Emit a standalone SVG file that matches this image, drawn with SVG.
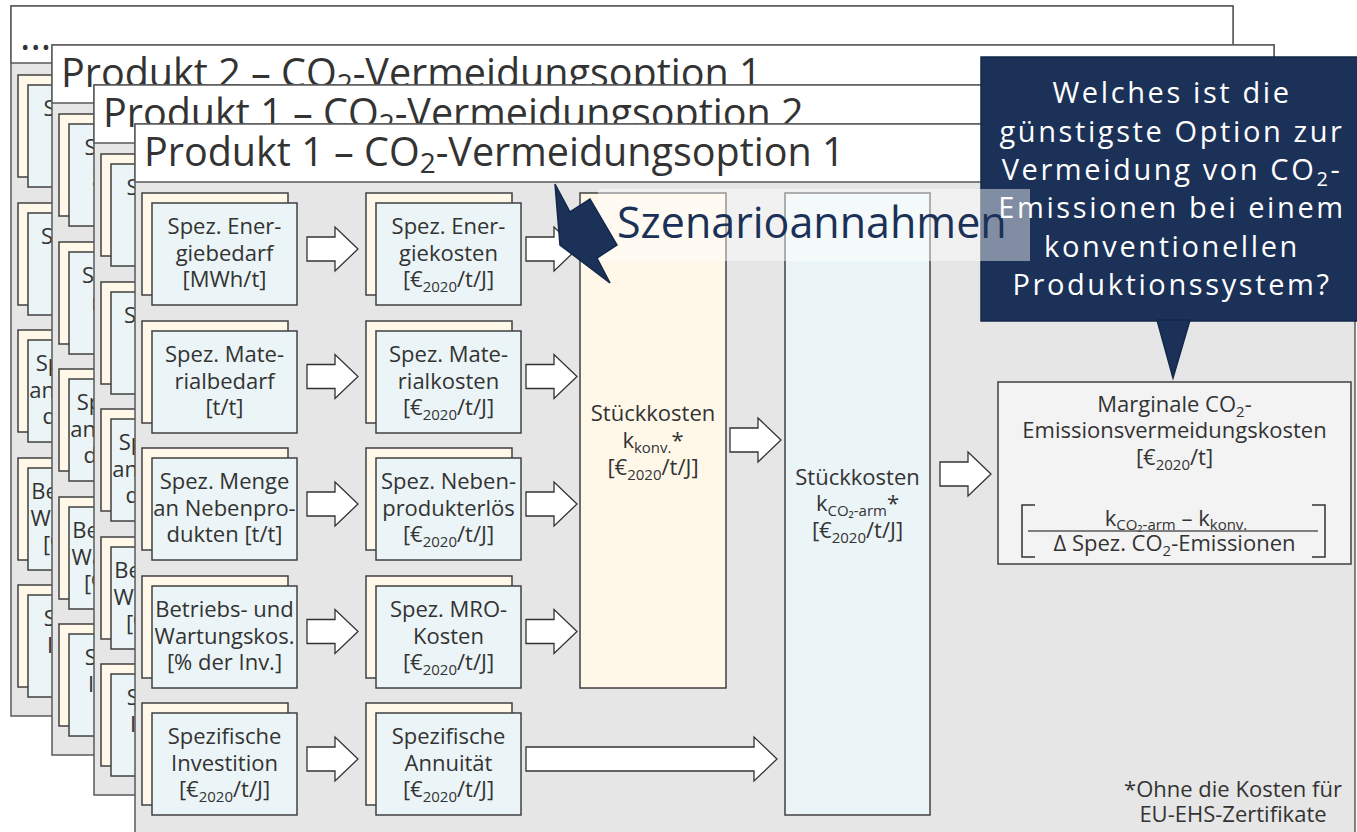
<svg xmlns="http://www.w3.org/2000/svg" xmlns:xlink="http://www.w3.org/1999/xlink" width="1357" height="832" viewBox="0 0 1357 832">
<style>
.pb{fill:#e6e6e6;stroke:#595959;stroke-width:1.5}
.ph{fill:#ffffff;stroke:#595959;stroke-width:1.5}
.cr{fill:#fff8e9;stroke:#404040;stroke-width:1.5}
.bl{fill:#ebf4f6;stroke:#404040;stroke-width:1.5}
.gr{fill:#f3f3f3;stroke:#404040;stroke-width:1.5}
.t{font-family:"Open Sans","Noto Sans","DejaVu Sans",sans-serif;font-size:22px;fill:#333333;text-anchor:middle}
.ti{font-family:"Open Sans","Noto Sans","DejaVu Sans",sans-serif;font-size:39.5px;fill:#333333}
.ar{fill:#ffffff;stroke:#333333;stroke-width:1.3;stroke-linejoin:miter}
.cw{font-family:"Open Sans","Noto Sans","DejaVu Sans",sans-serif;font-size:29px;fill:#ffffff;text-anchor:middle;letter-spacing:2.6px}
.sz{font-family:"Open Sans","Noto Sans","DejaVu Sans",sans-serif;font-size:43px;fill:#1b3158}
.ln{fill:none;stroke:#333333;stroke-width:1.5}
</style>
<defs>
<path id="arw" d="M0,-12 H28 V-22 L51,0 L28,22 V12 H0 Z"/>
</defs>

<!-- back layer 0 -->
<g id="layer0">
<rect class="pb" x="11" y="6" width="1222" height="710"/>
<rect class="ph" x="11" y="6" width="1222" height="57"/>
<text class="ti" x="20" y="50">...</text>
<use xlink:href="#col1" transform="translate(-124,-118)"/>
</g>

<!-- back layer 1 -->
<g id="layer1">
<rect class="pb" x="52" y="45" width="1222" height="710"/>
<rect class="ph" x="52" y="45" width="1222" height="58"/>
<text class="ti" x="61" y="87">Produkt 2 – CO<tspan font-size="28" dy="7">2</tspan><tspan dy="-7">-Vermeidungsoption 1</tspan></text>
<use xlink:href="#col1" transform="translate(-83,-79)"/>
</g>

<!-- back layer 2 -->
<g id="layer2">
<rect class="pb" x="94" y="85" width="1221" height="710"/>
<rect class="ph" x="94" y="85" width="1221" height="58"/>
<text class="ti" x="103" y="127">Produkt 1 – CO<tspan font-size="28" dy="7">2</tspan><tspan dy="-7">-Vermeidungsoption 2</tspan></text>
<use xlink:href="#col1" transform="translate(-41,-39)"/>
</g>

<!-- front layer -->
<g id="layer3">
<rect class="pb" x="135" y="124" width="1220" height="720"/>
<rect class="ph" x="135" y="124" width="1220" height="58"/>
<text class="ti" x="144" y="166">Produkt 1 – CO<tspan font-size="28" dy="7">2</tspan><tspan dy="-7">-Vermeidungsoption 1</tspan></text>
</g>

<g id="col1">
<g id="n-energiebedarf">
<rect class="cr" x="142" y="193" width="146" height="102"/>
<rect class="bl" x="152" y="203" width="145" height="102"/>
<text class="t" x="224.5" y="234">Spez. Ener-</text>
<text class="t" x="224.5" y="261">giebedarf</text>
<text class="t" x="224.5" y="287">[MWh/t]</text>
</g>
<g id="n-materialbedarf">
<rect class="cr" x="142" y="321" width="146" height="102"/>
<rect class="bl" x="152" y="331" width="145" height="102"/>
<text class="t" x="224.5" y="362">Spez. Mate-</text>
<text class="t" x="224.5" y="389">rialbedarf</text>
<text class="t" x="224.5" y="415">[t/t]</text>
</g>
<g id="n-nebenprodukte">
<rect class="cr" x="142" y="448" width="146" height="102"/>
<rect class="bl" x="152" y="458" width="145" height="102"/>
<text class="t" x="224.5" y="489">Spez. Menge</text>
<text class="t" x="224.5" y="516">an Nebenpro-</text>
<text class="t" x="224.5" y="542">dukten [t/t]</text>
</g>
<g id="n-wartung">
<rect class="cr" x="142" y="576" width="146" height="102"/>
<rect class="bl" x="152" y="586" width="145" height="102"/>
<text class="t" x="224.5" y="617">Betriebs- und</text>
<text class="t" x="224.5" y="644">Wartungskos.</text>
<text class="t" x="224.5" y="670">[% der Inv.]</text>
</g>
<g id="n-investition">
<rect class="cr" x="142" y="703" width="146" height="102"/>
<rect class="bl" x="152" y="713" width="145" height="102"/>
<text class="t" x="224.5" y="744">Spezifische</text>
<text class="t" x="224.5" y="771">Investition</text>
<text class="t" x="224.5" y="797">[€<tspan font-size="15" dy="5">2020</tspan><tspan dy="-5">/t/J]</tspan></text>
</g>
</g>

<g id="col2">
<g id="n-energiekosten">
<rect class="cr" x="366" y="193" width="146" height="102"/>
<rect class="bl" x="376" y="203" width="145" height="102"/>
<text class="t" x="448.5" y="234">Spez. Ener-</text>
<text class="t" x="448.5" y="261">giekosten</text>
<text class="t" x="448.5" y="287">[€<tspan font-size="15" dy="5">2020</tspan><tspan dy="-5">/t/J]</tspan></text>
</g>
<g id="n-materialkosten">
<rect class="cr" x="366" y="321" width="146" height="102"/>
<rect class="bl" x="376" y="331" width="145" height="102"/>
<text class="t" x="448.5" y="362">Spez. Mate-</text>
<text class="t" x="448.5" y="389">rialkosten</text>
<text class="t" x="448.5" y="415">[€<tspan font-size="15" dy="5">2020</tspan><tspan dy="-5">/t/J]</tspan></text>
</g>
<g id="n-nebenprodukterloes">
<rect class="cr" x="366" y="448" width="146" height="102"/>
<rect class="bl" x="376" y="458" width="145" height="102"/>
<text class="t" x="448.5" y="489">Spez. Neben-</text>
<text class="t" x="448.5" y="516">produkterlös</text>
<text class="t" x="448.5" y="542">[€<tspan font-size="15" dy="5">2020</tspan><tspan dy="-5">/t/J]</tspan></text>
</g>
<g id="n-mrokosten">
<rect class="cr" x="366" y="576" width="146" height="102"/>
<rect class="bl" x="376" y="586" width="145" height="102"/>
<text class="t" x="448.5" y="617">Spez. MRO-</text>
<text class="t" x="448.5" y="644">Kosten</text>
<text class="t" x="448.5" y="670">[€<tspan font-size="15" dy="5">2020</tspan><tspan dy="-5">/t/J]</tspan></text>
</g>
<g id="n-annuitaet">
<rect class="cr" x="366" y="703" width="146" height="102"/>
<rect class="bl" x="376" y="713" width="145" height="102"/>
<text class="t" x="448.5" y="744">Spezifische</text>
<text class="t" x="448.5" y="771">Annuität</text>
<text class="t" x="448.5" y="797">[€<tspan font-size="15" dy="5">2020</tspan><tspan dy="-5">/t/J]</tspan></text>
</g>
</g>

<g id="n-stueckkosten-konv">
<rect class="cr" x="580" y="193" width="146" height="495"/>
<text class="t" x="653" y="421">Stückkosten</text>
<text class="t" x="653" y="448">k<tspan font-size="15" dy="5">konv.</tspan><tspan dy="-5">*</tspan></text>
<text class="t" x="653" y="475">[€<tspan font-size="15" dy="5">2020</tspan><tspan dy="-5">/t/J]</tspan></text>
</g>

<g id="n-stueckkosten-co2arm">
<rect class="bl" x="785" y="193" width="145" height="622"/>
<text class="t" x="857.5" y="485">Stückkosten</text>
<text class="t" x="857.5" y="511">k<tspan font-size="15" dy="5">CO₂-arm</tspan><tspan dy="-5">*</tspan></text>
<text class="t" x="857.5" y="538">[€<tspan font-size="15" dy="5">2020</tspan><tspan dy="-5">/t/J]</tspan></text>
</g>

<g id="n-marginale">
<rect class="gr" x="998" y="382" width="353" height="182"/>
<text class="t" x="1174.5" y="412">Marginale CO<tspan font-size="15" dy="5">2</tspan><tspan dy="-5">-</tspan></text>
<text class="t" x="1174.5" y="438">Emissionsvermeidungskosten</text>
<text class="t" x="1174.5" y="465">[€<tspan font-size="15" dy="5">2020</tspan><tspan dy="-5">/t]</tspan></text>
<text class="t" x="1176" y="526">k<tspan font-size="15" dy="4">CO₂-arm</tspan><tspan dy="-4"> – k</tspan><tspan font-size="15" dy="4">konv.</tspan></text>
<line x1="1028" y1="531" x2="1318" y2="531" stroke="#595959" stroke-width="1.5"/>
<text class="t" x="1174.5" y="551">Δ Spez. CO<tspan font-size="15" dy="5">2</tspan><tspan dy="-5">-Emissionen</tspan></text>
<path class="ln" d="M1035,505 H1022 V557 H1035"/>
<path class="ln" d="M1312,505 H1325 V557 H1312"/>
</g>

<g id="connectors">
<use xlink:href="#arw" class="ar" x="307" y="249"/>
<use xlink:href="#arw" class="ar" x="307" y="376.5"/>
<use xlink:href="#arw" class="ar" x="307" y="504"/>
<use xlink:href="#arw" class="ar" x="307" y="631.5"/>
<use xlink:href="#arw" class="ar" x="307" y="759"/>
<use xlink:href="#arw" class="ar" x="526" y="249"/>
<use xlink:href="#arw" class="ar" x="526" y="376.5"/>
<use xlink:href="#arw" class="ar" x="526" y="504"/>
<use xlink:href="#arw" class="ar" x="526" y="631.5"/>
<path class="ar" d="M526,747 H754 V737 L777,759 L754,781 V771 H526 Z"/>
<use xlink:href="#arw" class="ar" x="730" y="440"/>
<use xlink:href="#arw" class="ar" x="940" y="474"/>
</g>

<g id="footnote">
<text class="t" x="1233" y="797" font-size="21.5">*Ohne die Kosten für</text>
<text class="t" x="1233" y="822" font-size="21.5">EU-EHS-Zertifikate</text>
</g>

<g id="callout">
<rect x="981" y="57" width="382" height="264" fill="#1b3158" stroke="#13284a" stroke-width="1.5"/>
<polygon points="1157,320 1190,320 1173,378" fill="#1b3158" stroke="#13284a" stroke-width="1.5"/>
</g>

<g id="szenario">
<rect x="598" y="189" width="432" height="72" fill="#ffffff" fill-opacity="0.45"/>
<polygon points="555,184 570,212 590,199 617,245 597,258 610,283 560,245" fill="#1b3158" stroke="#13284a" stroke-width="1.5"/>
<text class="sz" x="617" y="238">Szenarioannahmen</text>
</g>

<g id="callout-text">
<text class="cw" x="1172" y="103">Welches ist die</text>
<text class="cw" x="1172" y="142">günstigste Option zur</text>
<text class="cw" x="1172" y="180">Vermeidung von CO<tspan font-size="20" dy="6">2</tspan><tspan dy="-6">-</tspan></text>
<text class="cw" x="1172" y="218">Emissionen bei einem</text>
<text class="cw" x="1172" y="257">konventionellen</text>
<text class="cw" x="1172" y="295">Produktionssystem?</text>
</g>
</svg>
